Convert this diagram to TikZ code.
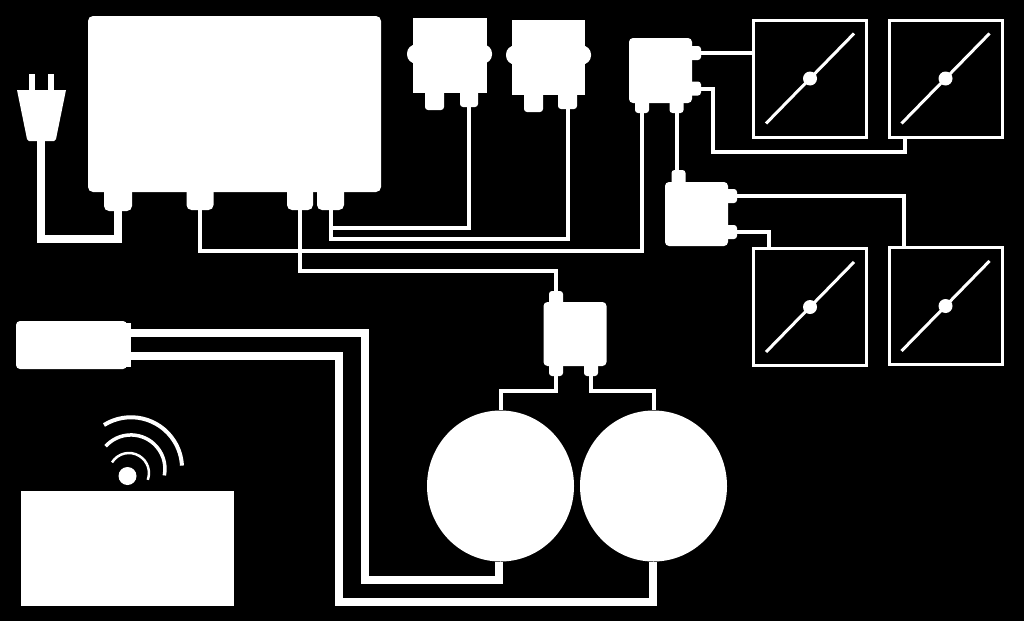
\documentclass[tikz,border=0pt]{standalone}
\usepackage{xcolor}
\usetikzlibrary{calc,shapes.geometric}
\tikzset{
  unit/.style={fill=white,inner sep=0pt,rounded corners=4pt},
  port/.style={fill=white,inner sep=0pt,rounded corners=3pt},
  bigport/.style={port,rounded corners=5pt,minimum height=24pt},
  wire/.style={draw=white,line width=4pt,line join=miter},
  thickwire/.style={draw=white,line width=8pt,line join=miter},
  panel/.style={draw=white,line width=3pt,inner sep=0pt,minimum width=113pt,minimum height=117pt},
  hub/.style={circle,fill=white,inner sep=0pt,minimum size=14pt},
  lamp/.style={ellipse,fill=white,inner sep=0pt,minimum width=147pt,minimum height=151pt},
  ear/.style={fill=white,inner sep=0pt,rounded corners=9pt,minimum width=85pt,minimum height=19pt},
  wave/.style={draw=white,line cap=butt}
}
\begin{document}
\begin{tikzpicture}[x=1pt,y=-1pt]
\fill[black] (0,0) rectangle (1024,621);
\node[unit,rounded corners=5pt,minimum width=293pt,minimum height=176pt] (controller) at (234.5,104) {};
\node[bigport,minimum width=28pt,minimum height=25pt] (ctrlA) at (118,198.5) {};
\node[bigport,minimum width=27pt] (ctrlB) at (200,198) {};
\node[bigport,minimum width=26pt] (ctrlC) at (300,198) {};
\node[bigport,minimum width=27pt] (ctrlD) at (330.5,198) {};
\fill[white] (17,90) -- (66,90) -- (56,139) -- (54,141) -- (29,141) -- (27,139) -- cycle;
\coordinate (plug) at (41,141);
\node[fill=white,inner sep=0pt,minimum width=6pt,minimum height=17pt] (prongL) at (32,82) {};
\node[fill=white,inner sep=0pt,minimum width=6pt,minimum height=17pt] (prongR) at (51,82) {};
\draw[thickwire] (plug) |- (ctrlA.south |- 0,239) -- (ctrlA.south);
\node[ear] (earA) at (449.5,54) {};
\node[fill=white,inner sep=0pt,minimum width=74pt,minimum height=75pt] (valveA) at (450,55.5) {};
\node[port,minimum width=19pt,minimum height=20pt] (valveAl) at (434.5,100) {};
\node[port,minimum width=18pt,minimum height=19pt] (valveAr) at (469,97.5) {};
\node[ear] (earB) at (548.5,55) {};
\node[fill=white,inner sep=0pt,minimum width=73pt,minimum height=75pt] (valveB) at (548.5,57.5) {};
\node[port,minimum width=19pt,minimum height=20pt] (valveBl) at (533.5,102) {};
\node[port,minimum width=19pt,minimum height=19pt] (valveBr) at (567.5,99.5) {};
\node[unit,minimum width=63pt,minimum height=65pt] (juncA) at (660.5,70.5) {};
\node[port,minimum width=15pt,minimum height=14pt] (juncAt) at (693.5,53) {};
\node[port,minimum width=15pt,minimum height=14pt] (juncAb) at (693.5,88.5) {};
\node[port,minimum width=14pt,minimum height=15pt] (juncAl) at (642,105.5) {};
\node[port,minimum width=14pt,minimum height=15pt] (juncAr) at (676.5,105.5) {};
\node[unit,minimum width=63pt,minimum height=64pt] (juncB) at (696.5,214) {};
\node[port,minimum width=14pt,minimum height=17pt] (juncBu) at (678.5,178.5) {};
\node[port,minimum width=15pt,minimum height=14pt] (juncBt) at (729.5,196) {};
\node[port,minimum width=15pt,minimum height=14pt] (juncBb) at (729.5,232) {};
\node[unit,minimum width=63pt,minimum height=64pt] (juncC) at (575,334) {};
\node[port,minimum width=14pt,minimum height=16pt] (juncCu) at (556,299) {};
\node[port,minimum width=14pt,minimum height=15pt] (juncCl) at (556,368.5) {};
\node[port,minimum width=14pt,minimum height=15pt] (juncCr) at (591,368.5) {};
\foreach \n/\x/\y in {1/810/78.5,2/945.5/78.5,3/810/307,4/945.5/306}{
  \node[panel] (panel\n) at (\x,\y) {};
  \node[hub] (hub\n) at (\x,\y) {};
  \draw[white,line width=3pt] (\x-44,\y+45) -- (\x+44,\y-45);
}
\node[lamp] (lampA) at (500.5,486) {};
\node[lamp] (lampB) at (653.5,486) {};
\node[unit,minimum width=111pt,minimum height=48pt] (driver) at (71.5,345) {};
\node[fill=white,inner sep=0pt,minimum width=6pt,minimum height=44pt] (driverEnd) at (128,345) {};
\node[fill=white,inner sep=0pt,minimum width=213pt,minimum height=115pt] (remote) at (127.5,548.5) {};
\node[circle,fill=white,inner sep=0pt,minimum size=18pt] (dot) at (127.5,476) {};
\draw[wave,line width=4pt] (104,425) arc[start angle=-122,end angle=-3,radius=51];
\draw[wave,line width=3.5pt] (105.7,446.2) arc[start angle=-138,end angle=11,radius=34];
\draw[wave,line width=2.5pt] (112,462.4) arc[start angle=-148,end angle=20,radius=20];
\coordinate (tapA) at (driverEnd.east |- 0,333);
\coordinate (tapB) at (driverEnd.east |- 0,356);
\draw[wire] (ctrlB.south) |- (juncAl.south |- 0,251) -- (juncAl.south);
\draw[wire] (ctrlC.south) |- (juncCu.north |- 0,270.5) -- (juncCu.north);
\draw[wire] (ctrlD.south) |- (valveAr.south |- 0,227.5) -- (valveAr.south);
\draw[wire] (ctrlD.south) |- (valveBr.south |- 0,239) -- (valveBr.south);
\draw[wire] (juncAt.east) -- (panel1.west |- juncAt.east);
\draw[wire] (juncAb.east) -| (713,152) -- (905,152) -- (905,0 |- panel2.south);
\draw[wire] (juncAr.south) -- (juncAr.south |- juncBu.north);
\draw[wire] (juncBt.east) -| (904,0 |- panel4.north);
\draw[wire] (juncBb.east) -| (769,0 |- panel3.north);
\draw[wire] (juncCl.south) |- (lampA.north |- 0,391) -- (lampA.north);
\draw[wire] (juncCr.south) |- (lampB.north |- 0,391) -- (lampB.north);
\draw[thickwire] (tapA) -| (365,580) -| ([xshift=-2pt]lampA.south);
\draw[thickwire] (tapB) -| (339,601.5) -| ([xshift=-1pt]lampB.south);
\end{tikzpicture}
\end{document}
